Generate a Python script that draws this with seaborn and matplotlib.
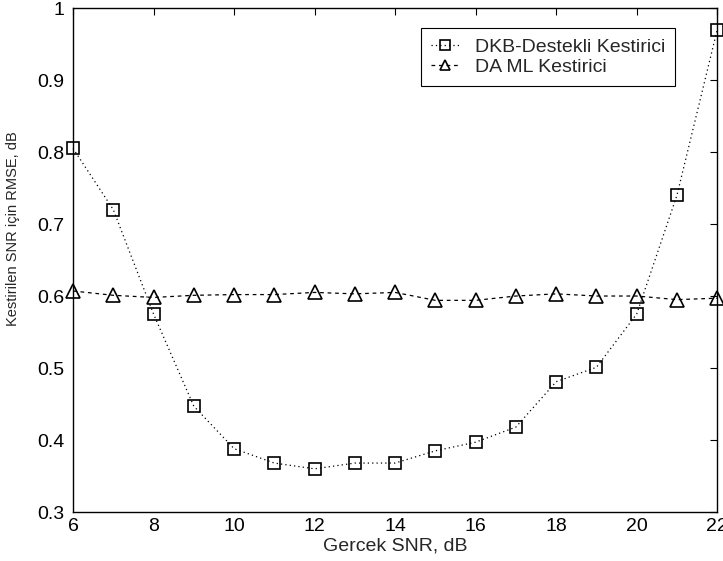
import matplotlib
matplotlib.use("Agg")
import matplotlib.pyplot as plt
import seaborn as sns
import pandas as pd

snr = [6, 7, 8, 9, 10, 11, 12, 13, 14, 15, 16, 17, 18, 19, 20, 21, 22]
dkb = [0.805, 0.720, 0.575, 0.447, 0.388, 0.368, 0.360, 0.368, 0.368, 0.385,
       0.397, 0.418, 0.481, 0.501, 0.575, 0.740, 0.970]
daml = [0.607, 0.601, 0.598, 0.601, 0.602, 0.602, 0.605, 0.603, 0.605, 0.594,
        0.594, 0.600, 0.603, 0.600, 0.600, 0.595, 0.597]
label_dkb = "DKB-Destekli Kestirici"
label_daml = "DA ML Kestirici"
xticks = [6, 8, 10, 12, 14, 16, 18, 20, 22]
yticks = [0.3, 0.4, 0.5, 0.6, 0.7, 0.8, 0.9, 1.0]
ytick_labels = ["0.3", "0.4", "0.5", "0.6", "0.7", "0.8", "0.9", "1"]

sns.set_style("white")
plt.rcParams["font.family"] = ["Liberation Sans", "DejaVu Sans"]

df = pd.DataFrame({"snr": snr, "dkb": dkb, "daml": daml})

fig = plt.figure(figsize=(7.23, 5.61), dpi=100)
ax = fig.add_axes([0.101, 0.0873, 0.891, 0.8984])

sns.lineplot(data=df, x="snr", y="dkb", ax=ax, color="black", linestyle=(0, (1, 2.5)),
             linewidth=0.9, marker="s", markersize=8.5, markerfacecolor="none",
             markeredgecolor="black", markeredgewidth=1.2, label=label_dkb,
             clip_on=False)
sns.lineplot(data=df, x="snr", y="daml", ax=ax, color="black", linestyle=(0, (3, 3)),
             linewidth=0.9, marker="^", markersize=9.5, markerfacecolor="none",
             markeredgecolor="black", markeredgewidth=1.2, label=label_daml,
             clip_on=False)

ax.set_xlim(6, 22)
ax.set_ylim(0.3, 1.0)
ax.set_xticks(xticks)
ax.set_xticklabels([str(t) for t in xticks])
ax.set_yticks(yticks)
ax.set_yticklabels(ytick_labels)
ax.tick_params(direction="in", top=True, right=True, length=5, width=0.8,
               labelsize=14, colors="black")
ax.tick_params(axis="y", pad=6)
ax.tick_params(axis="x", pad=4)
for s in ax.spines.values():
    s.set_visible(True)
    s.set_color("black")
    s.set_linewidth(1.0)
ax.set_xlabel("Gercek SNR, dB", fontsize=14, labelpad=2)
ax.set_ylabel("Kestirilen SNR için RMSE, dB", fontsize=10.5)
ax.yaxis.set_label_coords(-0.082, 0.563)

leg = ax.legend(loc="upper right", bbox_to_anchor=(0.935, 0.960), borderaxespad=0,
                fontsize=14, frameon=True, fancybox=False, edgecolor="black",
                framealpha=1, handlelength=1.5, handletextpad=0.8,
                borderpad=0.5, labelspacing=0.15, markerscale=0.8)
leg.get_frame().set_linewidth(0.8)

fig.savefig("out.png", dpi=100)
